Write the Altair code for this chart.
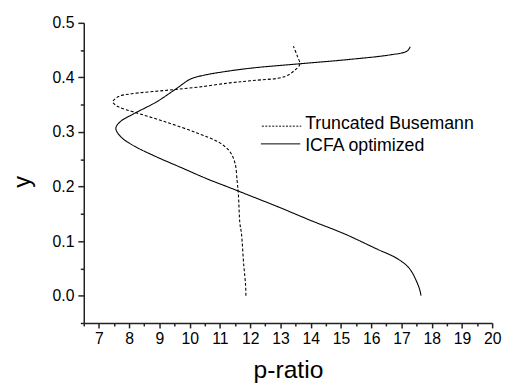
import altair as alt
import pandas as pd

series_names = ["Truncated Busemann", "ICFA optimized"]

# Truncated Busemann (dashed)
tb_p = [11.86, 11.85, 11.79, 11.71, 11.66, 11.61, 11.57, 11.50, 11.33, 11.00,
        10.25, 9.17, 8.19, 7.65, 7.46, 7.65, 8.08, 9.17, 10.25, 11.33,
        12.04, 13.12, 13.45, 13.64, 13.56, 13.43]
tb_y = [0.000, 0.019, 0.055, 0.115, 0.133, 0.187, 0.210, 0.243, 0.264, 0.280,
        0.298, 0.319, 0.336, 0.346, 0.355, 0.365, 0.370, 0.376, 0.382, 0.390,
        0.394, 0.401, 0.412, 0.424, 0.439, 0.457]

# ICFA optimized (solid)
icfa_p = [17.65, 17.60, 17.51, 17.35, 17.18, 16.80, 16.21, 15.13, 14.04, 12.96,
          11.87, 11.23, 10.58, 9.71, 8.84, 8.08, 7.71, 7.56, 7.71, 8.14,
          8.90, 9.55, 10.03, 10.47, 11.33, 12.20, 13.66, 15.29, 16.59, 17.18,
          17.29]
icfa_y = [0.000, 0.012, 0.025, 0.043, 0.055, 0.070, 0.085, 0.113, 0.137, 0.162,
          0.186, 0.200, 0.214, 0.235, 0.256, 0.277, 0.292, 0.307, 0.319, 0.333,
          0.355, 0.379, 0.397, 0.404, 0.412, 0.418, 0.425, 0.433, 0.441, 0.448,
          0.456]

x_tick_values = [6.5, 7, 7.5, 8, 8.5, 9, 9.5, 10, 10.5, 11, 11.5, 12, 12.5, 13,
                 13.5, 14, 14.5, 15, 15.5, 16, 16.5, 17, 17.5, 18, 18.5, 19,
                 19.5, 20]
y_tick_values = [-0.05, 0.0, 0.05, 0.1, 0.15, 0.2, 0.25, 0.3, 0.35, 0.4, 0.45, 0.5]

rows = []
for i, (p, y) in enumerate(zip(tb_p, tb_y)):
    rows.append({"p": p, "y": y, "series": series_names[0], "ord": i})
for i, (p, y) in enumerate(zip(icfa_p, icfa_y)):
    rows.append({"p": p, "y": y, "series": series_names[1], "ord": i})
df = pd.DataFrame(rows)

FONT = "Arial, Liberation Sans, sans-serif"

x_axis = alt.Axis(
    values=x_tick_values,
    labelExpr="datum.value % 1 === 0 ? format(datum.value, 'd') : ''",
    tickSize={"condition": {"test": "datum.value % 1 !== 0", "value": 3}, "value": 5},
    grid=False, domainColor="#222", domainWidth=1.5, tickColor="#222", tickWidth=1.5,
    labelFont=FONT, labelFontSize=16, labelColor="black", labelPadding=3,
    labelFlush=False, labelOverlap=False,
    title="p-ratio", titleFont=FONT, titleFontSize=25, titleFontWeight="normal",
    titleColor="black", titleBaseline="alphabetic", titleY=55,
)
y_axis = alt.Axis(
    values=y_tick_values,
    labelExpr="round(datum.value * 100) % 10 === 0 ? format(datum.value, '.1f') : ''",
    tickSize={"condition": {"test": "round(datum.value * 100) % 10 !== 0", "value": 3.5}, "value": 6},
    grid=False, domainColor="#222", domainWidth=1.5, tickColor="#222", tickWidth=1.5,
    labelFont=FONT, labelFontSize=16, labelColor="black", labelPadding=4,
    labelFlush=False, labelOverlap=False,
    title="y", titleFont=FONT, titleFontSize=24, titleFontWeight="normal",
    titleColor="black", titleBaseline="alphabetic", titleAngle=270,
    titleX=-55, titleY=161, titleAlign="center",
)

lines = alt.Chart(df).mark_line(color="black", strokeWidth=1.1, interpolate="catmull-rom").encode(
    x=alt.X("p:Q", scale=alt.Scale(domain=[6.5, 20], nice=False, zero=False), axis=x_axis),
    y=alt.Y("y:Q", scale=alt.Scale(domain=[-0.05, 0.5], nice=False, zero=False), axis=y_axis),
    order="ord:Q",
    detail="series:N",
    strokeDash=alt.StrokeDash("series:N", scale=alt.Scale(domain=series_names, range=[[3, 2], [1, 0]]), legend=None),
)

leg_df0 = pd.DataFrame({"name": [series_names[0]]})
leg_df1 = pd.DataFrame({"name": [series_names[1]]})

leg_rule0 = alt.Chart(leg_df0).mark_rule(color="black", strokeWidth=1, strokeDash=[2, 1.5]).encode(
    x=alt.value(181), x2=alt.value(221), y=alt.value(105))
leg_rule1 = alt.Chart(leg_df1).mark_rule(color="black", strokeWidth=1).encode(
    x=alt.value(180), x2=alt.value(220), y=alt.value(123))
leg_text0 = alt.Chart(leg_df0).mark_text(align="left", baseline="alphabetic", font=FONT, fontSize=18, color="black").encode(
    x=alt.value(225), y=alt.value(108), text="name:N")
leg_text1 = alt.Chart(leg_df1).mark_text(align="left", baseline="alphabetic", font=FONT, fontSize=18, color="black").encode(
    x=alt.value(225), y=alt.value(130), text="name:N")

chart = alt.layer(lines, leg_rule0, leg_rule1, leg_text0, leg_text1).properties(
    width=415, height=305,
    padding={"left": 77, "top": 12, "right": 10, "bottom": 63},
    autosize=alt.AutoSizeParams(type="none"),
).configure_view(stroke=None)

chart.save("out.html", embed_options={"renderer": "svg", "actions": False})
